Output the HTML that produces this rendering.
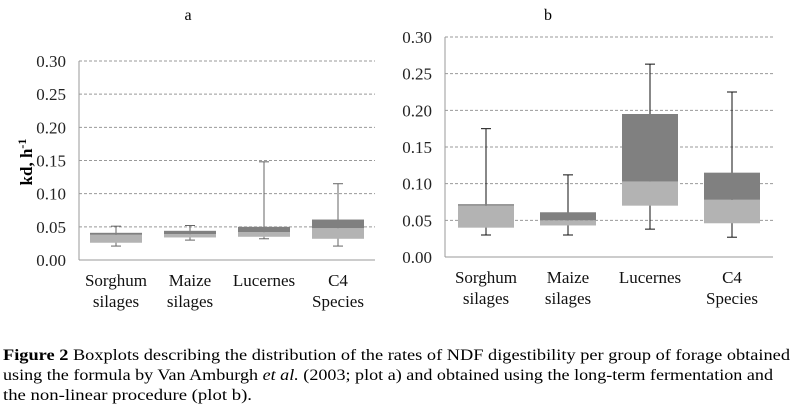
<!DOCTYPE html>
<html><head><meta charset="utf-8"><style>
body{margin:0;background:#fff}
svg{display:block}
svg text{font-family:"Liberation Serif","Times New Roman",serif}
</style></head><body>
<svg id="s" width="796" height="407" viewBox="0 0 796 407" font-family="Liberation Serif, serif">
<text x="188" y="20" font-size="16" text-anchor="middle">a</text>
<text x="548" y="20" font-size="16" text-anchor="middle">b</text>
<text transform="translate(32,162) rotate(-90)" font-size="17" font-weight="bold" text-anchor="middle">kd, h<tspan font-size="12" dy="-6">-1</tspan></text>
<g font-size="16">
<text x="3" y="360" textLength="787" lengthAdjust="spacingAndGlyphs"><tspan font-weight="bold">Figure 2</tspan> Boxplots describing the distribution of the rates of NDF digestibility per group of forage obtained</text>
<text x="3" y="380" textLength="770" lengthAdjust="spacingAndGlyphs">using the formula by Van Amburgh <tspan font-style="italic">et al.</tspan> (2003; plot a) and obtained using the long-term fermentation and</text>
<text x="3" y="400" textLength="249" lengthAdjust="spacingAndGlyphs">the non-linear procedure (plot b).</text>
</g>
</svg>
<script>
const categories=[["Sorghum","silages"],["Maize","silages"],["Lucernes",""],["C4","Species"]];
const yTicks=[0,0.05,0.10,0.15,0.20,0.25,0.30];
const aMin=[0.021,0.030,0.032,0.021];
const aQ1=[0.026,0.034,0.035,0.032];
const aMed=[0.038,0.039,0.042,0.048];
const aQ3=[0.041,0.044,0.050,0.061];
const aMax=[0.051,0.052,0.148,0.115];
const bMin=[0.030,0.030,0.038,0.027];
const bQ1=[0.040,0.043,0.070,0.046];
const bMed=[0.070,0.050,0.103,0.078];
const bQ3=[0.072,0.061,0.195,0.115];
const bMax=[0.175,0.112,0.263,0.225];
const NS="http://www.w3.org/2000/svg";
const svg=document.getElementById('s');
function mk(t,a,p){const e=document.createElementNS(NS,t);for(const k in a)e.setAttribute(k,a[k]);(p||svg).appendChild(e);return e;}
function plot(cfg,mn,q1,md,q3,mx){
  const g=mk('g',{});
  
  
  const y=v=>cfg.y0+(cfg.y1-cfg.y0)*v/0.30;
  const bw=(cfg.x1-cfg.x0)/4;
  const x=i=>cfg.x0+bw*(i+0.5);
  yTicks.forEach(t=>{
    if(t>0){const l=mk('line',{x1:cfg.x0,x2:cfg.x1,y1:y(t),y2:y(t),stroke:'#999','stroke-dasharray':'3,2'},g);
    
    }
    const tx=mk('text',{x:cfg.x0-13,y:y(t)+6,'font-size':17,'text-anchor':'end',fill:'#222'},g);
    
    
    tx.textContent=t.toFixed(2);
  });
  mk('line',{x1:cfg.x0,x2:cfg.x0,y1:cfg.y1,y2:cfg.y0,stroke:'#999'},g);
  mk('line',{x1:cfg.x0,x2:cfg.x1,y1:cfg.y0,y2:cfg.y0,stroke:'#999'},g);
  categories.forEach((c,i)=>{
    const cx=x(i),w=cfg.w;
    const wl=mk('line',{x1:cx,x2:cx,y1:y(mn[i]),y2:y(mx[i]),stroke:cfg.wc},g);
    
    
    [mn[i],mx[i]].forEach(v=>mk('line',{x1:cx-5,x2:cx+5,y1:y(v),y2:y(v),stroke:cfg.wc},g));
    const lo=mk('rect',{x:cx-w/2,width:w,y:y(md[i]),height:y(q1[i])-y(md[i]),fill:'#b3b3b3'},g);
    
    
    const hi=mk('rect',{x:cx-w/2,width:w,y:y(q3[i]),height:y(md[i])-y(q3[i]),fill:'#808080'},g);
    
    
    c.forEach((s,j)=>{
      const t=mk('text',{x:cx,y:cfg.y0+26+j*21,'font-size':17,'text-anchor':'middle',fill:'#111'},g);
      
      
      t.textContent=s;
    });
  });
}
plot({name:'plot-a',x0:79,x1:375,y0:260,y1:61,w:52,wc:'#666'},aMin,aQ1,aMed,aQ3,aMax);
plot({name:'plot-b',x0:445,x1:773,y0:257,y1:37,w:56,wc:'#111'},bMin,bQ1,bMed,bQ3,bMax);
</script>
</body></html>
